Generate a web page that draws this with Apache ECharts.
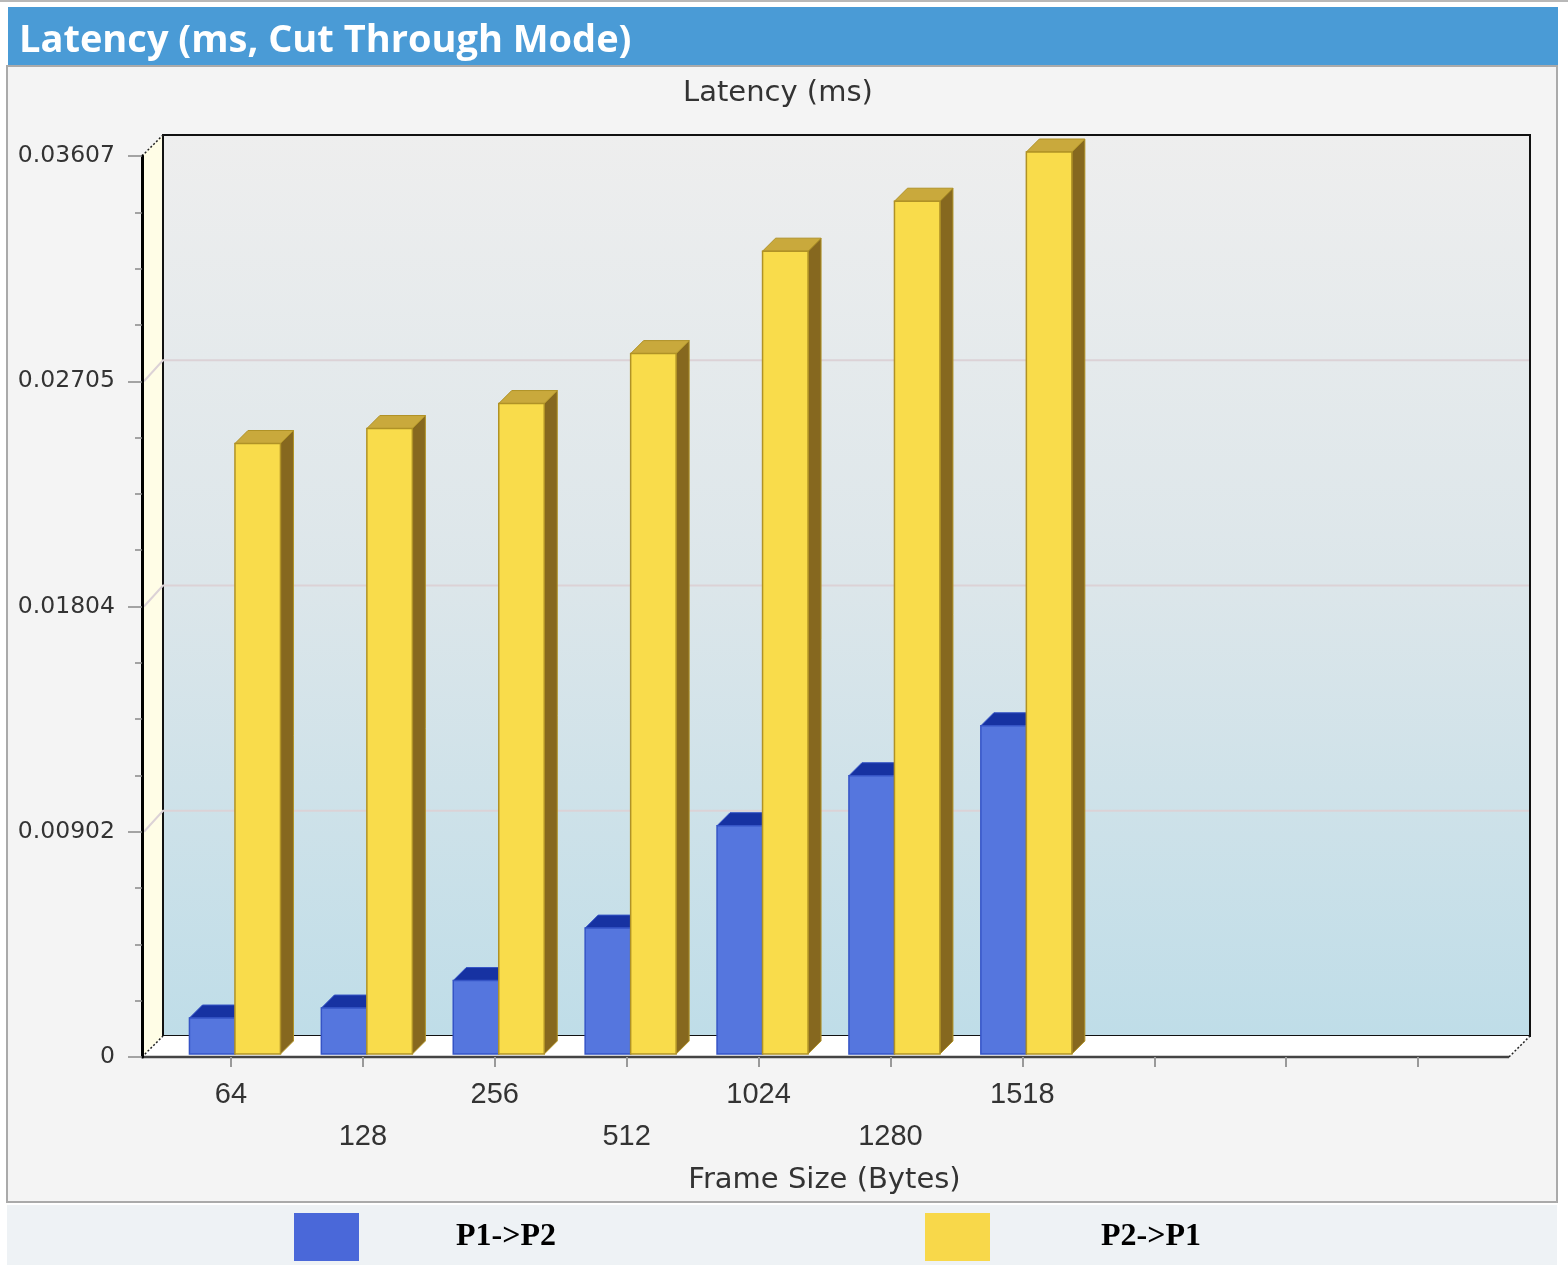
<!DOCTYPE html>
<html>
<head>
<meta charset="utf-8">
<title>Latency (ms, Cut Through Mode)</title>
<script src="https://cdn.jsdelivr.net/npm/echarts@6/dist/echarts.min.js"></script>
<style>
    html, body { margin: 0; padding: 0; background: #ffffff; }
    #chart { width: 1568px; height: 1272px; }
</style>
</head>
<body>
<div id="chart"></div>
<script>
(function () {
    "use strict";

    // frame sizes, last three slots are empty on the original chart
    var categories = ['64', '128', '256', '512', '1024', '1280', '1518', ' ', '  ', '   '];
    var p1p2 = [0.0014, 0.0018, 0.0029, 0.0050, 0.0091, 0.0111, 0.0131];
    var p2p1 = [0.0244, 0.0250, 0.0260, 0.0280, 0.0321, 0.0341, 0.03607];
    var yTicks = [0, 0.0090175, 0.018035, 0.0270525, 0.03607];
    var yTickLabels = ['0', '0.00902', '0.01804', '0.02705', '0.03607'];

    var DEPTH = 21;      // depth of the 3d box
    var BAR_DEPTH = 13;  // depth of each bar
    var BAR_LIFT = 4;

    function toPairs(values) {
        return values.map(function (v, i) {
            return [i, v];
        });
    }

    function renderFrame(params, api) {
        var cs = params.coordSys;
        var d = DEPTH;
        var fl = cs.x - 23, fr = cs.x + cs.width + 25;
        var ft = cs.y, fb = cs.y + cs.height;
        var bl = fl + d, br = fr + d, bt = ft - d, bb = fb - d;
        var children = [];

        children.push({
            type: 'rect',
            shape: { x: bl, y: bt, width: br - bl, height: bb - bt },
            style: {
                fill: new echarts.graphic.LinearGradient(0, 0, 0, 1, [
                    { offset: 0, color: '#eeeeee' },
                    { offset: 0.5, color: '#dce6ea' },
                    { offset: 1, color: '#bfdde8' }
                ]),
                stroke: '#111111',
                lineWidth: 2
            }
        });
        children.push({
            type: 'polygon',
            shape: { points: [[fl, ft], [bl, bt], [bl, bb], [fl, fb]] },
            style: { fill: '#fffde6' }
        });
        children.push({
            type: 'polygon',
            shape: { points: [[fl, fb], [bl, bb], [br, bb], [fr, fb]] },
            style: { fill: '#ffffff' }
        });
        children.push({
            type: 'line',
            shape: { x1: bl, y1: bt, x2: bl, y2: bb },
            style: { stroke: '#111111', lineWidth: 2 }
        });
        // grid lines on back and side wall
        for (var i = 1; i < yTicks.length - 1; i++) {
            var y = api.coord([0, yTicks[i]])[1];
            children.push({
                type: 'polyline',
                shape: { points: [[fl + 2, y], [bl, y - d], [br - 1, y - d]] },
                style: { stroke: '#dcd2d6', lineWidth: 2, fill: null }
            });
        }
        [[fl, ft, bl, bt], [fl, fb, bl, bb], [fr, fb, br, bb]].forEach(function (s) {
            children.push({
                type: 'line',
                shape: { x1: s[0], y1: s[1], x2: s[2], y2: s[3] },
                style: { stroke: '#222222', lineWidth: 1.5, lineDash: [2, 2] }
            });
        });
        children.push({
            type: 'line',
            shape: { x1: fl, y1: fb, x2: fr, y2: fb },
            style: { stroke: '#444444', lineWidth: 2.5 }
        });
        return { type: 'group', children: children };
    }

    function barRenderer(isLeft, colors) {
        return function (params, api) {
            var idx = api.value(0);
            var base = api.coord([idx, 0]);
            var top = api.coord([idx, api.value(1)])[1] - BAR_LIFT;
            var bottom = base[1] - 3;
            var bw = api.size([1, 0])[0] * 0.345;
            var x0 = base[0] + 4 - (isLeft ? bw : 0);
            var d = BAR_DEPTH;
            return {
                type: 'group',
                children: [{
                    type: 'polygon',
                    shape: { points: [[x0 + bw, top], [x0 + bw + d, top - d], [x0 + bw + d, bottom - d], [x0 + bw, bottom]] },
                    style: { fill: colors.side, stroke: colors.line, lineWidth: 1 }
                }, {
                    type: 'polygon',
                    shape: { points: [[x0, top], [x0 + d, top - d], [x0 + bw + d, top - d], [x0 + bw, top]] },
                    style: { fill: colors.top, stroke: colors.line, lineWidth: 1 }
                }, {
                    type: 'rect',
                    shape: { x: x0, y: top, width: bw, height: bottom - top },
                    style: { fill: colors.front, stroke: colors.line, lineWidth: 1.5 }
                }]
            };
        };
    }

    var blue = { front: '#5576de', top: '#1632a2', side: '#2a45b8', line: '#3554c6', legend: '#4a68d9' };
    var yellow = { front: '#f9dc4b', top: '#c9a93c', side: '#86681f', line: '#b09226', legend: '#f8d84a' };

    var legendText = {
        fontFamily: 'Liberation Serif',
        fontWeight: 'bold',
        fontSize: 32,
        color: '#000000'
    };

    var chart = echarts.init(document.getElementById('chart'));
    var option = {
        animation: false,
        backgroundColor: '#ffffff',
        graphic: [
            { type: 'rect', z: -10, shape: { x: 0, y: 0, width: 1568, height: 2 }, style: { fill: '#b8b8b8' } },
            { type: 'rect', z: -10, shape: { x: 8, y: 7, width: 1550, height: 59 }, style: { fill: '#4a9bd6' } },
            { type: 'rect', z: -10, shape: { x: 7, y: 66, width: 1550, height: 1136 }, style: { fill: '#f4f4f4', stroke: '#aaaaaa', lineWidth: 2 } },
            { type: 'rect', z: -10, shape: { x: 7, y: 1205, width: 1550, height: 60 }, style: { fill: '#eef2f5' } }
        ],
        title: [{
            text: 'Latency (ms, Cut Through Mode)',
            left: 19,
            top: 22,
            padding: 0,
            textStyle: { color: '#ffffff', fontFamily: 'Open Sans', fontWeight: 'bold', fontSize: 38 }
        }, {
            text: 'Latency (ms)',
            left: 683,
            top: 79,
            padding: 0,
            textStyle: { color: '#333333', fontFamily: 'DejaVu Sans', fontWeight: 'normal', fontSize: 29 }
        }],
        legend: [{
            data: ['P1->P2'],
            left: 294,
            top: 1213,
            padding: 0,
            icon: 'rect',
            itemWidth: 65,
            itemHeight: 48,
            selectedMode: false,
            textStyle: echarts.util.extend({ padding: [0, 0, 0, 92] }, legendText)
        }, {
            data: ['P2->P1'],
            left: 925,
            top: 1213,
            padding: 0,
            icon: 'rect',
            itemWidth: 65,
            itemHeight: 48,
            selectedMode: false,
            textStyle: echarts.util.extend({ padding: [0, 0, 0, 106] }, legendText)
        }],
        grid: {
            left: 165,
            width: 1319,
            top: 156,
            bottom: 215,
            containLabel: false,
            outerBoundsMode: 'none'
        },
        xAxis: {
            type: 'category',
            data: categories,
            z: 5,
            axisLine: { show: false },
            axisTick: { show: true, alignWithLabel: true, length: 10, lineStyle: { color: '#999999', width: 2 } },
            axisLabel: {
                interval: 0,
                margin: 17,
                fontFamily: 'Liberation Sans',
                fontSize: 29,
                lineHeight: 42,
                color: '#333333',
                formatter: function (value, index) {
                    return index % 2 ? '\n' + value : value;
                }
            },
            splitLine: { show: false },
            name: 'Frame Size (Bytes)',
            nameLocation: 'middle',
            nameGap: 109,
            nameTextStyle: { fontFamily: 'DejaVu Sans', fontSize: 29, color: '#333333' }
        },
        yAxis: {
            type: 'value',
            min: 0,
            max: 0.03607,
            interval: 0.0090175,
            offset: 23,
            z: 5,
            axisLine: { show: true, lineStyle: { color: '#000000', width: 3 } },
            axisTick: { show: true, length: 14, lineStyle: { color: '#888888', width: 1.5 } },
            minorTick: { show: true, splitNumber: 4, length: 7, lineStyle: { color: '#888888', width: 1.5 } },
            axisLabel: {
                margin: 27,
                fontFamily: 'DejaVu Sans',
                fontSize: 23.5,
                color: '#333333',
                formatter: function (value) {
                    return yTickLabels[Math.round(value / 0.0090175)];
                }
            },
            splitLine: { show: false }
        },
        series: [{
            type: 'custom',
            name: 'frame',
            silent: true,
            z: 1,
            renderItem: renderFrame,
            data: [[0, 0]],
            encode: { x: 0, y: 1 }
        }, {
            type: 'custom',
            name: 'P1->P2',
            z: 2,
            itemStyle: { color: blue.legend },
            renderItem: barRenderer(true, blue),
            data: toPairs(p1p2),
            encode: { x: 0, y: 1 }
        }, {
            type: 'custom',
            name: 'P2->P1',
            z: 3,
            itemStyle: { color: yellow.legend },
            renderItem: barRenderer(false, yellow),
            data: toPairs(p2p1),
            encode: { x: 0, y: 1 }
        }]
    };
    chart.setOption(option);
}());
</script>
</body>
</html>
